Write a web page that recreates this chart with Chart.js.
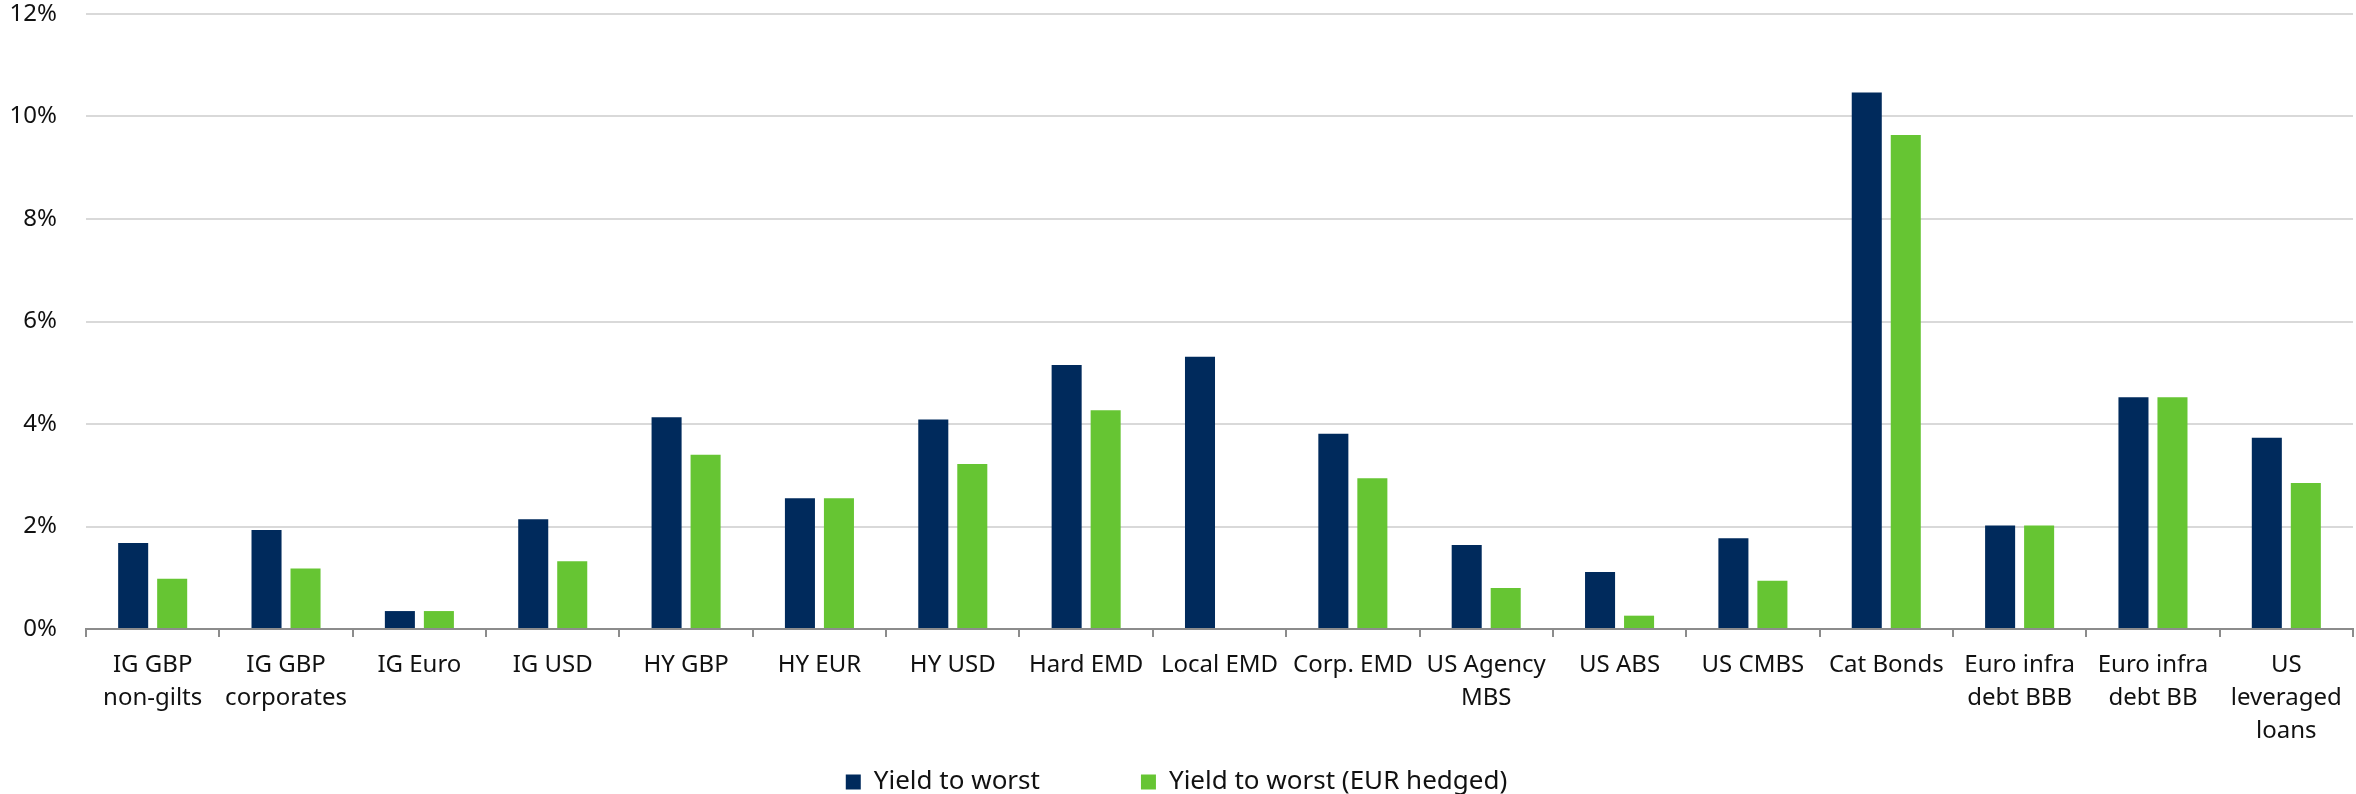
<!DOCTYPE html>
<html lang="en">
<head>
    <meta charset="UTF-8">
    <title>Yield to worst</title>
    <script src="https://cdn.jsdelivr.net/npm/chart.js"></script>
    <style>
        body {
            margin: 0;
            background-color: #fff;
        }
        .chart-container {
            position: relative;
            width: 2356px;
            height: 794px;
        }
    </style>
</head>
<body>
<div class="chart-container">
    <canvas id="chart"></canvas>
</div>

<script>
    // categories (multi-line labels as arrays)
    const categories = [
        ['IG GBP', 'non-gilts'],
        ['IG GBP', 'corporates'],
        'IG Euro',
        'IG USD',
        'HY GBP',
        'HY EUR',
        'HY USD',
        'Hard EMD',
        'Local EMD',
        'Corp. EMD',
        ['US Agency', 'MBS'],
        'US ABS',
        'US CMBS',
        'Cat Bonds',
        ['Euro infra', 'debt BBB'],
        ['Euro infra', 'debt BB'],
        ['US', 'leveraged', 'loans']
    ];

    // values in %
    const yieldToWorst = [1.68, 1.93, 0.35, 2.14, 4.13, 2.55, 4.09, 5.15, 5.31, 3.81, 1.64, 1.11, 1.77, 10.47, 2.02, 4.52, 3.73];
    const yieldToWorstHedged = [0.98, 1.18, 0.35, 1.32, 3.40, 2.55, 3.22, 4.27, null, 2.94, 0.80, 0.26, 0.94, 9.64, 2.02, 4.52, 2.85];

    const yTicks = [0, 2, 4, 6, 8, 10, 12];

    const navy = '#002a5c';
    const green = '#66c533';
    const font = { family: '"Noto Sans", sans-serif', size: 24 };

    const ctx = document.getElementById('chart').getContext('2d');
    new Chart(ctx, {
        type: 'bar',
        data: {
            labels: categories,
            datasets: [
                {
                    label: 'Yield to worst',
                    data: yieldToWorst,
                    backgroundColor: navy,
                    categoryPercentage: 0.585,
                    barPercentage: 0.77
                },
                {
                    label: 'Yield to worst (EUR hedged)',
                    data: yieldToWorstHedged,
                    backgroundColor: green,
                    categoryPercentage: 0.585,
                    barPercentage: 0.77
                }
            ]
        },
        options: {
            responsive: true,
            maintainAspectRatio: false,
            animation: false,
            layout: {
                padding: { top: 0, right: 3, bottom: -11, left: 0 }
            },
            plugins: {
                tooltip: { enabled: false },
                legend: {
                    position: 'bottom',
                    labels: {
                        color: '#111',
                        font: { family: font.family, size: 26 },
                        boxWidth: 15,
                        boxHeight: 15,
                        padding: 10,
                        // wider gap between the two legend entries
                        generateLabels: (chart) => {
                            const items = Chart.defaults.plugins.legend.labels.generateLabels(chart);
                            items[0].text = items[0].text + '\u2002'.repeat(7);
                            items.forEach(it => { it.lineWidth = 0; });
                            return items;
                        }
                    }
                }
            },
            scales: {
                x: {
                    grid: {
                        display: true,
                        drawOnChartArea: false,
                        drawTicks: true,
                        tickLength: 8,
                        color: '#8c8c8c',
                        lineWidth: 2
                    },
                    border: {
                        display: true,
                        color: '#8c8c8c',
                        width: 2
                    },
                    ticks: {
                        color: '#111',
                        font: { family: font.family, size: 24, lineHeight: 1.375 },
                        autoSkip: false,
                        maxRotation: 0,
                        minRotation: 0,
                        padding: 12
                    },
                    afterFit: (scale) => { scale.height = 130; }
                },
                y: {
                    min: 0,
                    max: 12,
                    afterBuildTicks: (scale) => {
                        scale.ticks = yTicks.map(v => ({ value: v }));
                    },
                    grid: {
                        color: '#d9d9d9',
                        lineWidth: 2,
                        drawTicks: false
                    },
                    border: { display: false },
                    ticks: {
                        color: '#111',
                        font: font,
                        padding: 29,
                        callback: (value) => value + '%'
                    },
                    afterFit: (scale) => {
                        scale.width = 86;
                        // keep only half a label height above the top tick
                        scale.paddingTop = 14;
                        scale.paddingBottom = 14;
                    }
                }
            }
        }
    });
</script>
</body>
</html>
